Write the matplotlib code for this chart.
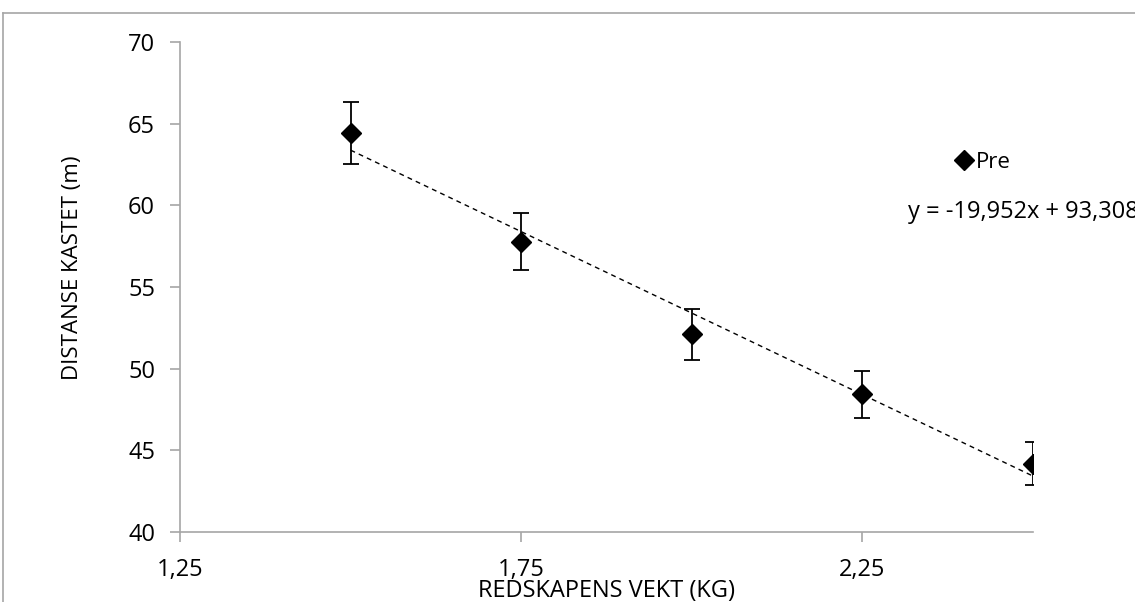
import numpy as np
import matplotlib.pyplot as plt
from matplotlib.lines import Line2D
from matplotlib.ticker import FuncFormatter

plt.rcParams['font.family'] = ['Open Sans', 'DejaVu Sans']

# Redskapets vekt (kg) og gjennomsnittlig kastlengde (m) med standardavvik
vekt = [1.5, 1.75, 2.0, 2.25, 2.5]
distanse = [64.44, 57.77, 52.12, 48.42, 44.18]
avvik = [1.91, 1.74, 1.56, 1.44, 1.32]

# lineær trendlinje
stigning = -19.952
konstant = 93.308

x_ticks = [1.25, 1.75, 2.25]
y_ticks = [40, 45, 50, 55, 60, 65, 70]

fig = plt.figure(figsize=(11.35, 6.02), dpi=100)
ax = fig.add_axes([0.1586, 0.1163, 0.7514, 0.8139])

ax.errorbar(vekt, distanse, yerr=avvik, fmt='D', color='black', ms=10.5,
            ecolor='black', elinewidth=1.3, capsize=5.8, capthick=1.3,
            zorder=3)

xt = np.array([vekt[0], vekt[-1]])
ax.plot(xt, stigning * xt + konstant, color='black', lw=1.0,
        linestyle=(0, (3.5, 3)), zorder=2)

ax.set_xlim(1.25, 2.5)
ax.set_ylim(40, 70)
ax.set_xticks(x_ticks)
ax.set_yticks(y_ticks)
komma = FuncFormatter(lambda v, p: f"{v:.2f}".replace('.', ','))
ax.xaxis.set_major_formatter(komma)

for side in ['top', 'right']:
    ax.spines[side].set_visible(False)
for side in ['left', 'bottom']:
    ax.spines[side].set_color('#a6a6a6')
    ax.spines[side].set_linewidth(1.2)
ax.tick_params(axis='both', colors='#a6a6a6', length=7, width=1.2,
               labelcolor='black', labelsize=17)
ax.tick_params(axis='x', pad=12)
ax.tick_params(axis='y', pad=11)

ax.set_xlabel('REDSKAPENS VEKT (KG)', fontsize=17, va='center')
ax.xaxis.set_label_coords(0.5, -0.121)
ax.set_ylabel('DISTANSE KASTET (m)', fontsize=16, va='center')
ax.yaxis.set_label_coords(-0.1266, 0.539)

# forklaring og ligning
markør = Line2D([], [], marker='D', ls='none', color='black', ms=10)
ax.legend(handles=[markør], labels=['Pre'], loc='center left',
          bbox_to_anchor=(956 / 1135, 1 - 162 / 602),
          bbox_transform=fig.transFigure, frameon=False, fontsize=16,
          handlelength=0.7, handletextpad=0.2, borderpad=0, borderaxespad=0)
fig.text(908 / 1135, 1 - 212 / 602, 'y = -19,952x + 93,308', fontsize=17,
         va='center', ha='left')

# grå ramme rundt diagrammet
fig.add_artist(Line2D([0.003, 1.0], [0.9784, 0.9784], color='#a6a6a6',
                      lw=1.2, transform=fig.transFigure))
fig.add_artist(Line2D([0.003, 0.003], [0.0, 0.9784], color='#a6a6a6',
                      lw=1.2, transform=fig.transFigure))

fig.savefig('out.png', dpi=100)
